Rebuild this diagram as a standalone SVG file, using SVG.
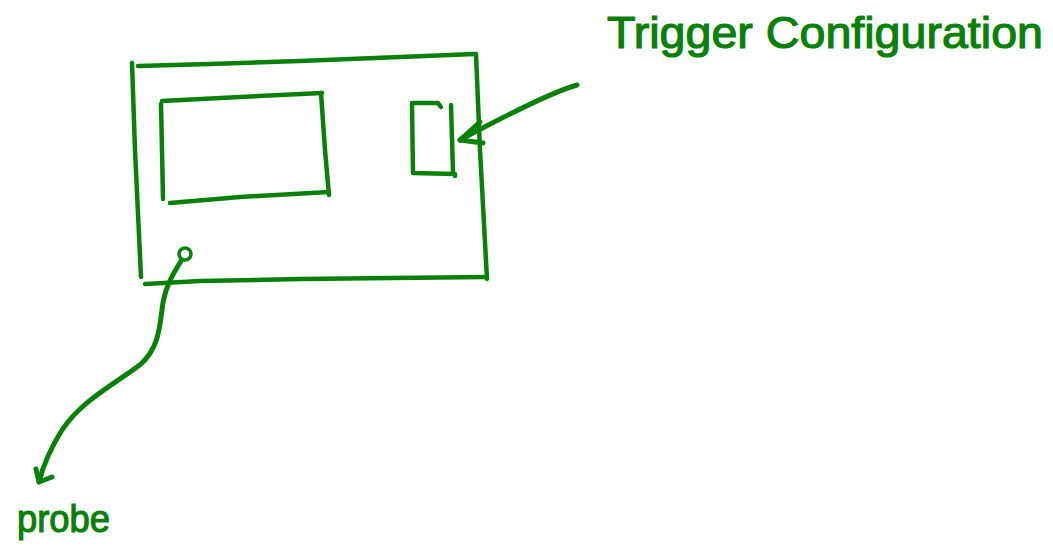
<svg xmlns="http://www.w3.org/2000/svg" width="1053" height="548" viewBox="0 0 1053 548">
  <style>
    .ink { fill: none; stroke: #0a800a; stroke-width: 4.5; stroke-linecap: round; stroke-linejoin: round; }
    .thick { stroke-width: 5; }
    .lbl { fill: #0a800a; stroke: #0a800a; stroke-width: 1.2; font-family: "Liberation Sans", "DejaVu Sans", sans-serif; }
  </style>
  <rect width="1053" height="548" fill="#ffffff"/>
  <g id="device">
    <path class="ink" d="M138,66 L210,64 L300,61 L400,57 L475,54"/>
    <path class="ink" d="M132,63 L135,150 L141,277"/>
    <path class="ink" d="M476,54 L480,150 L487,279"/>
    <path class="ink" d="M145,284 L200,281 L300,279 L486,277"/>
  </g>
  <g id="screen">
    <path class="ink" d="M162,101 L240,97 L322,93"/>
    <path class="ink" d="M161,104 L162,150 L163,199"/>
    <path class="ink" d="M321,93 L325,150 L329,195"/>
    <path class="ink" d="M170,203 L240,197 L329,192"/>
  </g>
  <g id="trigger-control">
    <path class="ink" d="M412,103 L438,103 L441,107"/>
    <path class="ink" d="M412,104 L413,173 L455,174 L455,176"/>
    <path class="ink" d="M451,105 L453,172"/>
  </g>
  <g id="probe-port">
    <circle class="ink" cx="185" cy="254" r="6" style="stroke-width:3.5"/>
  </g>
  <g id="label-trigger">
    <text class="lbl" x="607" y="48" font-size="44" textLength="436" lengthAdjust="spacingAndGlyphs">Trigger Configuration</text>
  </g>
  <g id="label-probe">
    <text class="lbl" x="17" y="532" font-size="38" textLength="93" lengthAdjust="spacingAndGlyphs">probe</text>
  </g>
  <g id="connectors">
    <path class="ink thick" d="M577,85 Q548,93 460,140"/>
    <path class="ink thick" d="M480,122 L460,140 L483,143"/>
    <path class="ink thick" d="M181,261 C171,277 164,290 162,310 C159,335 156,350 141,364 C115,384 82,400 62,430 C52,446 43,466 39,482"/>
    <path class="ink thick" d="M36,469 L39,482 L52,477"/>
  </g>
</svg>
